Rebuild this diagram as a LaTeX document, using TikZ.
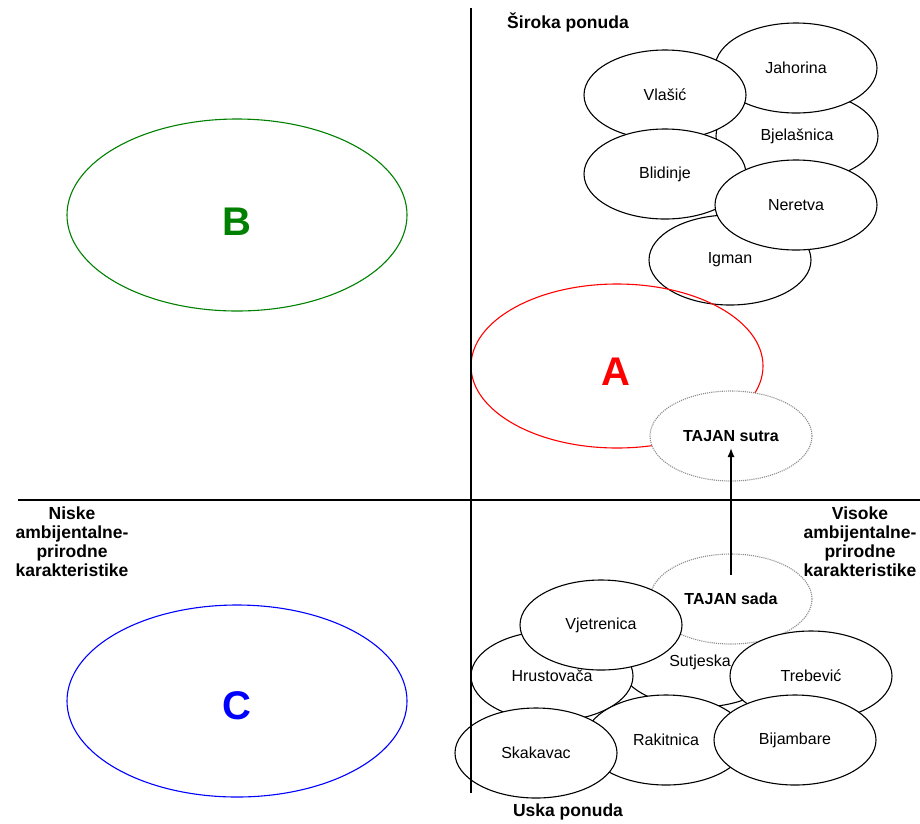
\documentclass[tikz,border=0pt]{standalone}
\usepackage{fontspec}
\setmainfont{Liberation Sans}
\usetikzlibrary{shapes.geometric,arrows.meta}
\tikzset{
  site/.style={ellipse,draw=black,fill=white,line width=1.1pt,minimum width=162pt,minimum height=90pt,inner sep=0pt,font=\fontsize{16}{18}\selectfont},
  future/.style={site,draw=black!45,densely dotted,font=\bfseries\fontsize{16}{18}\selectfont},
  zone/.style={ellipse,line width=1.1pt,inner sep=0pt,minimum width=340pt,minimum height=192pt},
  zonetext/.style={inner sep=0pt,font=\bfseries\fontsize{40}{44}\selectfont},
  axislabel/.style={align=center,inner sep=0pt,font=\bfseries\fontsize{17.5}{19}\selectfont},
}
\begin{document}
\begin{tikzpicture}[x=1pt,y=-1pt,>={Latex[length=9pt,width=7pt]},line join=bevel]
\useasboundingbox (0,0) rectangle (920,823);
%% zones
  \node [zone,draw=green!50!black] (node_b) at (237,215) {};
  \node [zone,draw=blue] (node_c) at (237,701) {};
  \node [zonetext,text=green!50!black] (node_b_text) at (237,222) {B};
  \node [zonetext,text=blue] (node_c_text) at (237,706) {C};
%% wide offer
  \node [site] (node_0) at (797,136) {Bjelašnica};
  \node [site] (node_1) at (796,68) {Jahorina};
  \node [site] (node_2) at (665,95) {Vlašić};
  \node [site] (node_3) at (665,174) {Blidinje};
  \node [site] (node_4) at (730,260) {Igman};
  \node [site] (node_5) at (796,205) {Neretva};
  \node [zone,draw=red,minimum width=292pt,minimum height=164pt] (node_a) at (617,366) {};
  \node [zonetext,text=red] (node_a_text) at (616,372) {A};
  \node [future] (node_6) at (731,436) {TAJAN sutra};
%% narrow offer
  \node [site] (node_7) at (700,662) {Sutjeska};
  \node [future] (node_8) at (731,599) {TAJAN sada};
  \node [site] (node_9) at (552,676) {Hrustovača};
  \node [site] (node_10) at (601,625) {Vjetrenica};
  \node [site] (node_11) at (811,676) {Trebević};
  \node [site] (node_12) at (666,740) {Rakitnica};
  \node [site] (node_13) at (795,740) {Bijambare};
  \node [site] (node_14) at (536,753) {Skakavac};
%% move
  \coordinate (move_0) at (731,575);
  \coordinate (move_1) at (731,448);
  \draw [black,->,line width=1.3pt] (move_0) -- (move_1);
%% axes
  \coordinate (axis_0) at (471,8);
  \coordinate (axis_1) at (471,793);
  \coordinate (axis_2) at (18,500);
  \coordinate (axis_3) at (920,500);
  \draw [black,line width=1.1pt] (axis_0) -- (axis_1);
  \draw [black,line width=1.1pt] (axis_2) -- (axis_3);
  \node [axislabel] (node_top) at (568,22) {Široka ponuda};
  \node [axislabel] (node_bottom) at (568,812) {Uska ponuda};
  \node [axislabel] (node_left) at (72,542) {Niske\\ambijentalne-\\prirodne\\karakteristike};
  \node [axislabel] (node_right) at (860,542) {Visoke\\ambijentalne-\\prirodne\\karakteristike};
\end{tikzpicture}
\end{document}
